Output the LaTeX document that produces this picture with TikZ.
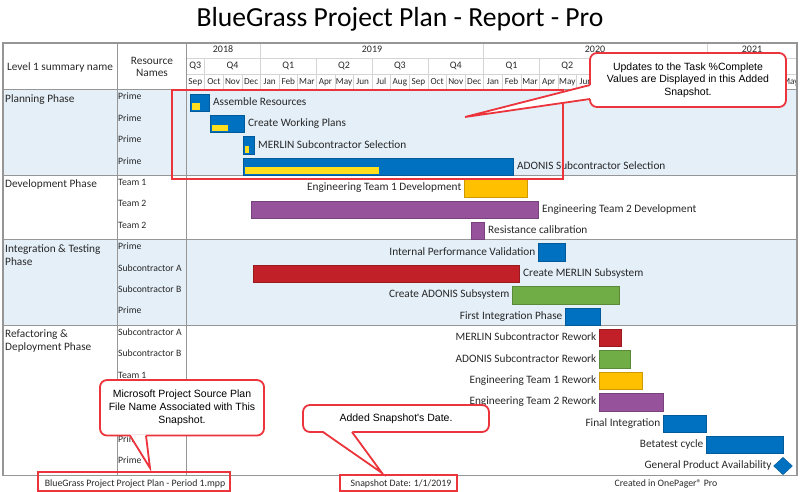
\documentclass[tikz,border=0pt]{standalone}
\usepackage{fontspec}
\setmainfont{Carlito}
\newfontfamily\notefont{Liberation Sans}
\usetikzlibrary{positioning,shapes.geometric}

\definecolor{opblue}{RGB}{0,112,192}
\definecolor{opyellow}{RGB}{255,222,30}
\definecolor{oporange}{RGB}{255,192,0}
\definecolor{oppurple}{RGB}{150,82,155}
\definecolor{opred}{RGB}{193,32,40}
\definecolor{opgreen}{RGB}{112,173,71}
\definecolor{phasebg}{RGB}{228,239,248}
\definecolor{notered}{RGB}{236,52,60}
\definecolor{rulegray}{RGB}{150,150,150}
\definecolor{hdrgray}{RGB}{212,212,212}
\definecolor{inkgray}{RGB}{40,40,40}

\tikzset{
  bar/.style={draw=#1!80!black, fill=#1, minimum height=17.5pt, inner sep=0pt, outer sep=0pt, anchor=west},
  prog/.style={fill=opyellow, minimum height=6.5pt, inner sep=0pt, outer sep=0pt, anchor=south west},
  task/.style={font=\fontsize{11.3}{13}\selectfont, text=inkgray, inner sep=0pt, text height=7.6pt, text depth=2pt},
  res/.style={font=\fontsize{9.7}{11}\selectfont, text=inkgray, inner sep=0pt, anchor=west, text height=6.6pt, text depth=1.8pt},
  phase/.style={font=\fontsize{11.3}{13.5}\selectfont, text=inkgray, inner sep=0pt, anchor=north west, align=left},
  hdr/.style={font=\fontsize{11.3}{12.5}\selectfont, text=inkgray, inner sep=0pt, align=center},
  timescale/.style={font=\fontsize{#1}{11}\selectfont, text=inkgray, inner sep=0pt, text height=6.8pt, text depth=1.8pt},
  foot/.style={font=\fontsize{9.8}{11}\selectfont, text=inkgray, inner sep=0pt},
  notebox/.style={draw=notered, line width=1.8pt, fill=white, rounded corners=7pt, font=\notefont\fontsize{10.5}{12.6}\selectfont, align=center, inner sep=0pt, outer sep=0pt, text=black},
  notewedge/.style={draw=notered, line width=1.8pt, line join=miter},
  hilite/.style={draw=notered, line width=1.5pt}
}

\begin{document}
\begin{tikzpicture}[x=1pt,y=-1pt]
\useasboundingbox (0,0) rectangle (800,492);
% title
\node[font=\fontsize{27.6}{32}\selectfont, text=black] (title) at (400,19) {BlueGrass Project Plan - Report - Pro};

% phase bands
\fill[phasebg] (3,90) rectangle (797,175.6);
\fill[phasebg] (3,239.8) rectangle (797,325.4);

% timescale grid
\draw[hdrgray, thin] (186,58) -- (797,58);
\draw[hdrgray, thin] (186,74) -- (797,74);
\foreach \i in {1,...,32} \draw[hdrgray, thin] ({186+18.6*\i},74) -- ({186+18.6*\i},90);
\foreach \i in {1,7,10,13,19,22,25,31} \draw[hdrgray, thin] ({186+18.6*\i},58) -- ({186+18.6*\i},90);
\foreach \i in {4,16,28} \draw[hdrgray, thin] ({186+18.6*\i},43) -- ({186+18.6*\i},90);

% years, quarters, months
\node[timescale=10] (yr2018) at (223,50.5) {2018};
\node[timescale=10] (yr2019) at (372,50.5) {2019};
\node[timescale=10] (yr2020) at (595,50.5) {2020};
\node[timescale=10] (yr2021) at (752,50.5) {2021};
\foreach \q/\c [count=\n] in {Q3/195.3,Q4/232.5,Q1/288.3,Q2/344.1,Q3/399.9,Q4/455.7,Q1/511.5,Q2/567.3}
  \node[timescale=10] (qtr\n) at (\c,66) {\q};
\foreach \m [count=\i from 0] in {Sep,Oct,Nov,Dec,Jan,Feb,Mar,Apr,May,Jun,Jul,Aug,Sep,Oct,Nov,Dec,Jan,Feb,Mar,Apr,May,Jun}
  \node[timescale=9.2] (mon\i) at ({186+18.6*(\i+0.5)},82) {\m};
\begin{scope}
  \clip (186,74) rectangle (797,90);
  \node[timescale=9.2] (mon32) at ({186+18.6*32.5},82) {May};
\end{scope}

% table rules
\draw[rulegray, line width=1pt] (3,90) -- (797,90);
\foreach \y in {175.6,239.8,325.4} \draw[rulegray, line width=1.2pt] (3,\y) -- (797,\y);
\draw[rulegray, line width=1pt] (117,43) -- (117,475.6);
\draw[rulegray, line width=1pt] (186,43) -- (186,475.6);
\draw[rulegray, line width=1.2pt] (3,43) rectangle (797,475.6);

% column heads
\node[hdr] (lvlhdr) at (60,67) {Level 1 summary name};
\node[hdr] (reshdr) at (152,67) {Resource\\Names};

% phases
\node[phase] (planph) at (5,94.5) {Planning Phase};
\node[phase] (devph) at (5,179.5) {Development Phase};
\node[phase] (intph) at (5,244) {Integration \& Testing\\Phase};
\node[phase] (refph) at (5,329.5) {Refactoring \&\\Deployment Phase};

% resources
\foreach \k/\r in {0/Prime,1/Prime,2/Prime,3/Prime,4/Team 1,5/Team 2,6/Team 2,7/Prime,8/Subcontractor A,9/Subcontractor B,10/Prime,11/Subcontractor A,12/Subcontractor B,13/Team 1,16/Prime,17/Prime}
  \node[res] (res\k) at (118,{97.5+21.4*\k}) {\r};

% planning tasks
\node[bar=opblue, minimum width=19pt] (assemble) at (190,102.5) {};
\node[prog, minimum width=8pt] (assembleprog) at ([xshift=1.5pt,yshift=1.5pt]assemble.south west) {};
\node[task, right=4pt of assemble] (assemblelbl) {Assemble Resources};
\node[bar=opblue, minimum width=34pt] (plans) at (210,123.9) {};
\node[prog, minimum width=16pt] (plansprog) at ([xshift=1.5pt,yshift=1.5pt]plans.south west) {};
\node[task, right=4pt of plans] (planslbl) {Create Working Plans};
\node[bar=opblue, minimum width=11pt] (merlinsel) at (243,145.3) {};
\node[prog, minimum width=4pt] (merlinselprog) at ([xshift=1.5pt,yshift=1.5pt]merlinsel.south west) {};
\node[task, right=4pt of merlinsel] (merlinsellbl) {MERLIN Subcontractor Selection};
\node[bar=opblue, minimum width=270pt] (adonissel) at (243,166.7) {};
\node[prog, minimum width=134pt] (adonisselprog) at ([xshift=1.5pt,yshift=1.5pt]adonissel.south west) {};
\node[task, right=4pt of adonissel] (adonissellbl) {ADONIS Subcontractor Selection};

% development tasks
\node[bar=oporange, minimum width=63pt] (eng1dev) at (464,188.1) {};
\node[task, left=2.5pt of eng1dev] (eng1devlbl) {Engineering Team 1 Development};
\node[bar=oppurple, minimum width=287pt] (eng2dev) at (251,209.5) {};
\node[task, right=4pt of eng2dev] (eng2devlbl) {Engineering Team 2 Development};
\node[bar=oppurple, minimum width=13pt] (resist) at (471,230.9) {};
\node[task, right=4pt of resist] (resistlbl) {Resistance calibration};

% integration tasks
\node[bar=opblue, minimum width=27pt] (perfval) at (538,252.3) {};
\node[task, left=2.5pt of perfval] (perfvallbl) {Internal Performance Validation};
\node[bar=opred, minimum width=266pt] (merlinsub) at (253,273.7) {};
\node[task, right=4pt of merlinsub] (merlinsublbl) {Create MERLIN Subsystem};
\node[bar=opgreen, minimum width=107pt] (adonissub) at (512,295.1) {};
\node[task, left=2.5pt of adonissub] (adonissublbl) {Create ADONIS Subsystem};
\node[bar=opblue, minimum width=35pt] (firstint) at (565,316.5) {};
\node[task, left=2.5pt of firstint] (firstintlbl) {First Integration Phase};

% refactoring tasks
\node[bar=opred, minimum width=22pt] (merlinrw) at (599,337.9) {};
\node[task, left=2.5pt of merlinrw] (merlinrwlbl) {MERLIN Subcontractor Rework};
\node[bar=opgreen, minimum width=31pt] (adonisrw) at (599,359.3) {};
\node[task, left=2.5pt of adonisrw] (adonisrwlbl) {ADONIS Subcontractor Rework};
\node[bar=oporange, minimum width=43pt] (eng1rw) at (599,380.7) {};
\node[task, left=2.5pt of eng1rw] (eng1rwlbl) {Engineering Team 1 Rework};
\node[bar=oppurple, minimum width=64pt] (eng2rw) at (599,402.1) {};
\node[task, left=2.5pt of eng2rw] (eng2rwlbl) {Engineering Team 2 Rework};
\node[bar=opblue, minimum width=43pt] (finalint) at (663,423.5) {};
\node[task, left=2.5pt of finalint] (finalintlbl) {Final Integration};
\node[bar=opblue, minimum width=77pt] (betatest) at (706,444.9) {};
\node[task, left=2.5pt of betatest] (betatestlbl) {Betatest cycle};
\node[diamond, aspect=1.1, fill=opblue, draw=opblue!80!black, minimum width=19pt, minimum height=17.5pt, inner sep=0pt] (gpa) at (783,466) {};
\node[task, left=1.5pt of gpa] (gpalbl) {General Product Availability};

% highlight of the updated bars
\draw[hilite] (172,90) rectangle (563,179);

% callout: task complete
\node[notebox, minimum width=196pt, minimum height=54pt] (updnote) at (688,80) {Updates to the Task \%Complete\\Values are Displayed in this Added\\Snapshot.};
\coordinate (updtip) at (465,117);
\fill[white] ([xshift=1.2pt,yshift=-5pt]updnote.west) -- (updtip) -- ([xshift=1.2pt,yshift=-19pt]updnote.west) -- cycle;
\draw[notewedge] ([yshift=-5pt]updnote.west) -- (updtip) -- ([yshift=-19pt]updnote.west);

% callout: source file
\node[notebox, minimum width=164pt, minimum height=55.5pt] (srcnote) at (182,407.8) {Microsoft Project Source Plan\\File Name Associated with This\\Snapshot.};
\coordinate (srctip) at (150,468);
\fill[white] ([xshift=-52pt,yshift=1.2pt]srcnote.south) -- (srctip) -- ([xshift=-36pt,yshift=1.2pt]srcnote.south) -- cycle;
\draw[notewedge] ([xshift=-52pt]srcnote.south) -- (srctip) -- ([xshift=-36pt]srcnote.south);

% callout: snapshot date
\node[notebox, minimum width=186pt, minimum height=27pt] (datenote) at (396,418.5) {Added Snapshot's Date.};
\coordinate (datetip) at (382,473);
\fill[white] ([xshift=-73pt,yshift=1.2pt]datenote.south) -- (datetip) -- ([xshift=-44pt,yshift=1.2pt]datenote.south) -- cycle;
\draw[notewedge] ([xshift=-73pt]datenote.south) -- (datetip) -- ([xshift=-44pt]datenote.south);

% footer
\node[foot] (srcfile) at (135,484) {BlueGrass Project Project Plan - Period 1.mpp};
\draw[hilite] (38,472) rectangle (230,491);
\node[foot] (snapdate) at (401,484) {Snapshot Date: 1/1/2019};
\draw[hilite] (340,475) rectangle (457,491);
\node[foot] (created) at (666,484) {Created in OnePager® Pro};
\end{tikzpicture}
\end{document}
